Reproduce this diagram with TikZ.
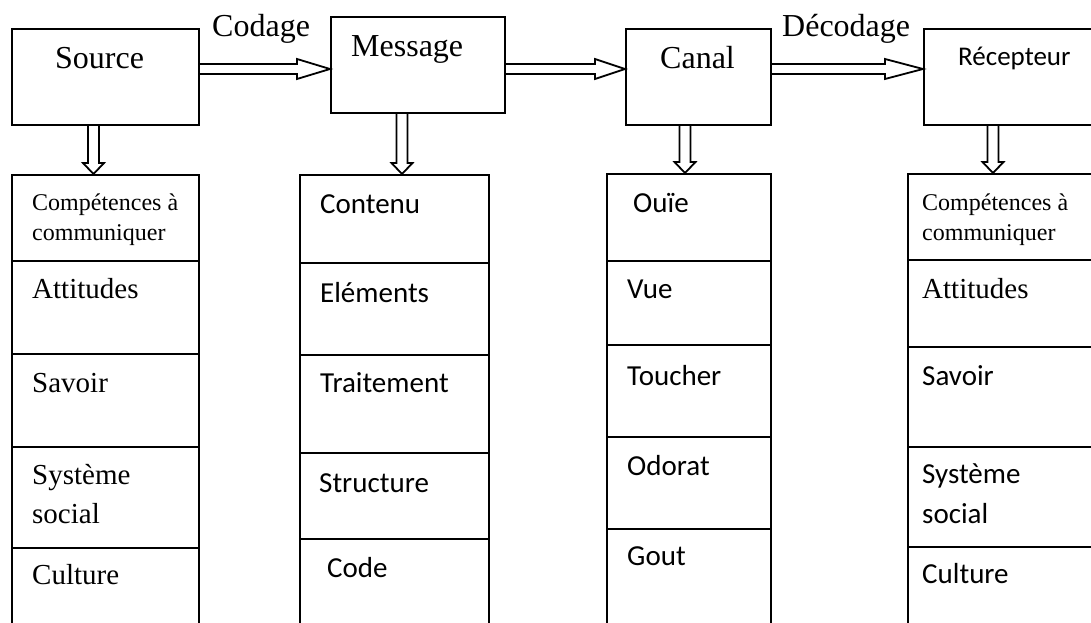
\documentclass[tikz,border=0pt]{standalone}
\usepackage{fontspec}
\setmainfont{Liberation Serif}
\newfontfamily\calibri{Carlito}
\usetikzlibrary{calc}

% hollow arrows: shaft of two lines, open triangular head
\newcommand{\harrow}[3]{%
  \draw[hollow] let \p1=(#1.east), \p2=(#2.west), \p0=(lvl) in
    (\x1,\y0+5pt) -- (\x2-#3pt,\y0+5pt) -- (\x2-#3pt,\y0+10pt) -- (\x2,\y0)
    -- (\x2-#3pt,\y0-10pt) -- (\x2-#3pt,\y0-5pt) -- (\x1,\y0-5pt);}
\newcommand{\varrow}[3]{%
  \draw[hollow] let \p1=(#1.south), \p2=(#2.north) in
    (#3pt-5.5pt,\y1) -- (#3pt-5.5pt,\y2+11pt) -- (#3pt-10.5pt,\y2+11pt)
    -- (#3pt,\y2) -- (#3pt+10.5pt,\y2+11pt) -- (#3pt+5.5pt,\y2+11pt)
    -- (#3pt+5.5pt,\y1);}

\begin{document}
\begin{tikzpicture}[x=1pt, y=-1pt, line join=miter,
  box/.style={draw, line width=2pt, anchor=north west, inner sep=0pt},
  hollow/.style={draw, line width=1.8pt},
  big/.style={anchor=base west, inner sep=0pt, font=\fontsize{32}{36}\selectfont},
  tnr/.style={anchor=base west, inner sep=0pt, align=left,
    font=\fontsize{29}{39}\selectfont},
  tnrsmall/.style={anchor=base west, inner sep=0pt, align=left,
    font=\fontsize{24}{30}\selectfont},
  cal/.style={anchor=base west, inner sep=0pt, align=left,
    font=\calibri\fontsize{29}{40}\selectfont}]
  \useasboundingbox (0,0) rectangle (1091,623);
  \clip (0,0) rectangle (1091,623);
  \coordinate (lvl) at (0,69);
  % top row
  \node[box, minimum width=187pt, minimum height=96pt] (source) at (11,28) {};
  \node[box, minimum width=174pt, minimum height=96pt] (message) at (330,16) {};
  \node[box, minimum width=145pt, minimum height=96pt] (canal) at (625,28) {};
  \node[box, minimum width=200pt, minimum height=96pt] (recepteur) at (923,28) {};
  \node[big] (t-source) at (55,69) {Source};
  \node[big] (t-message) at (351,57) {Message};
  \node[big] (t-canal) at (660,69) {Canal};
  \node[cal, font=\calibri\fontsize{27}{32}\selectfont] (t-recepteur) at (958,66)
    {Récepteur};
  \node[big] (t-codage) at (212,37) {Codage};
  \node[big] (t-decodage) at (782,37) {Décodage};
  \harrow{source}{message}{33}
  \harrow{message}{canal}{30}
  \harrow{canal}{recepteur}{38}
  % columns
  \foreach \t/\b [count=\i] in {174/260,260/353,353/446,446/547,547/640}
    \node[box, minimum width=187pt, minimum height={\b-\t}] (src\i) at (11,\t) {};
  \foreach \t/\b [count=\i] in {174/262,262/354,354/452,452/538,538/640}
    \node[box, minimum width=189pt, minimum height={\b-\t}] (msg\i) at (299,\t) {};
  \foreach \t/\b [count=\i] in {173/260,260/344,344/436,436/528,528/640}
    \node[box, minimum width=164pt, minimum height={\b-\t}] (can\i) at (606,\t) {};
  \foreach \t/\b [count=\i] in {173/259,259/346,346/446,446/546,546/640}
    \node[box, minimum width=213pt, minimum height={\b-\t}] (rec\i) at (907,\t) {};
  \varrow{source}{src1}{93.5}
  \varrow{message}{msg1}{402}
  \varrow{canal}{can1}{685}
  \varrow{recepteur}{rec1}{993}
  % texts of the columns (two-line texts sit on their last baseline)
  \node[tnrsmall] (l-src1) at (32,240) {Compétences à\\communiquer};
  \node[tnr] (l-src2) at (32,298) {Attitudes};
  \node[tnr] (l-src3) at (32,392) {Savoir};
  \node[tnr] (l-src4) at (32,523) {Système\\social};
  \node[tnr] (l-src5) at (32,584) {Culture};
  \foreach \x/\y/\lab [count=\i] in {320/213/Contenu,320/302/Eléments,
      320/392/Traitement,319/492/Structure,327/577/Code}
    \node[cal] (l-msg\i) at (\x,\y) {\lab};
  \foreach \x/\y/\lab [count=\i] in {633/212/Ouïe,627/298/Vue,
      627/385/Toucher,627/475/Odorat,627/565/Gout}
    \node[cal] (l-can\i) at (\x,\y) {\lab};
  \node[tnrsmall] (l-rec1) at (922,240) {Compétences à\\communiquer};
  \node[tnr] (l-rec2) at (922,298) {Attitudes};
  \node[cal] (l-rec3) at (922,385) {Savoir};
  \node[cal] (l-rec4) at (922,523) {Système\\social};
  \node[cal] (l-rec5) at (922,583) {Culture};
\end{tikzpicture}
\end{document}
